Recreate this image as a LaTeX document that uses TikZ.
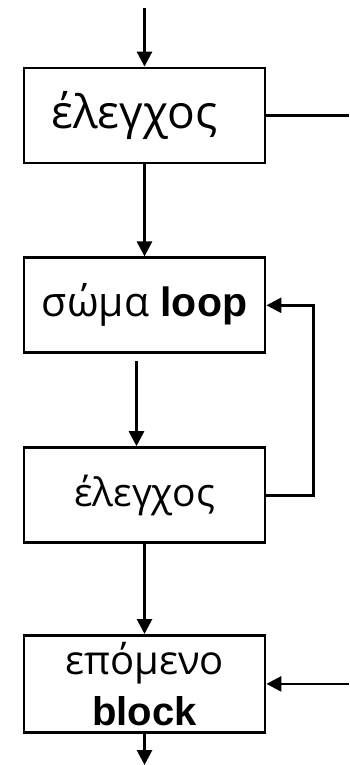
\documentclass[tikz,border=0pt]{standalone}
\usepackage{fontspec}
\setmainfont{Liberation Sans}
\newfontfamily\grk{Open Sans}
\usetikzlibrary{arrows.meta,positioning}
\tikzset{
  stepbox/.style={draw, line width=2.8pt, minimum width=241pt, minimum height=95pt,
    inner sep=0pt, align=center, font=\fontsize{40}{51}\selectfont},
  line/.style={line width=2.8pt},
  arrow/.style={line width=2.8pt, -{Triangle[length=15pt,width=15pt]}},
}

\begin{document}
\begin{tikzpicture}[node distance=92pt]
\useasboundingbox (0,0) rectangle (349pt,-765pt);
\node[stepbox, font=\fontsize{46}{51}\selectfont] (chk1) at (144.5pt,-115.5pt) {{\grk έλεγχος}\hspace*{20pt}};
\node[stepbox, below=of chk1, font=\fontsize{41}{51}\selectfont] (body) {{\grk σώμα} \textbf{loop}};
\node[stepbox, below=of body, font=\fontsize{39}{51}\selectfont] (chk2) {{\grk έλεγχος}};
\node[stepbox, below=90pt of chk2, minimum height=97pt] (next) {{\grk επόμενο}\\\textbf{block}};

% είσοδος / έξοδος
\coordinate (in) at (144.5pt,-8pt);
\coordinate (exit) at (349pt,-115.5pt);
\coordinate (join) at (next.east -| exit);
\coordinate (out) at (144.5pt,-765pt);

\draw[arrow] (in) -- (chk1.north);
\draw[line] (chk1.east) -- (exit);
\draw[arrow] (chk1.south) -- (body.north);
\draw[arrow] ([shift={(-8pt,-7pt)}]body.south) -- ([xshift=-8pt]chk2.north);

% επανάληψη
\draw[arrow] (chk2.east) -- ++(47pt,0) |- (body.east);

\draw[arrow] (chk2.south) -- (next.north);
\draw[arrow] (join) -- (next.east);
\draw[arrow] (next.south) -- (out);
\end{tikzpicture}
\end{document}
